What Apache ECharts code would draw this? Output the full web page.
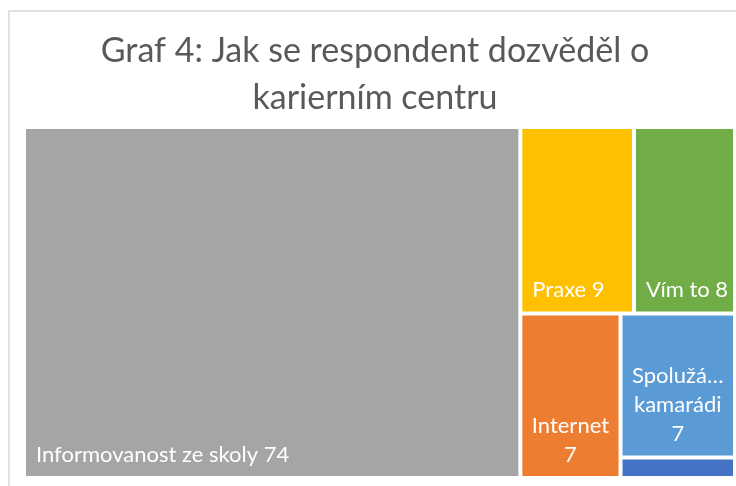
<!DOCTYPE html>
<html>
<head>
<meta charset="utf-8">
<script src="https://cdn.jsdelivr.net/npm/echarts@6/dist/echarts.min.js"></script>
<style>
	html, body {margin: 0; padding: 0; background: #fff;}
	#chart {width: 736px; height: 486px;}
</style>
</head>
<body>
<div id="chart"></div>
<script>
const names = [
	'Informovanost ze skoly',
	'Praxe',
	'Vím to',
	'Internet',
	'Spolužáci, kamarádi',
	'Jiné',
];
const values = [74, 9, 8, 7, 7, 1];
// label text as it is shown in the tiles (narrow tiles wrap)
const labels = [
	'Informovanost ze skoly 74',
	'Praxe 9',
	'Vím to 8',
	'Internet\n7',
	'Spolužá…\nkamarádi\n7',
	'',
];
const colors = ['#a5a5a5', '#ffc000', '#70ad47', '#ed7d31', '#5b9bd5', '#4472c4'];

const font = 'Lato';

const data = names.map(function (name, i) {
	const wrapped = labels[i].indexOf('\n') > -1;
	return {
		name: name,
		value: values[i],
		itemStyle: {color: colors[i]},
		label: {
			show: labels[i] !== '',
			position: wrapped ? 'insideBottom' : 'insideBottomLeft',
			align: wrapped ? 'center' : 'left',
			formatter: function () {
				return labels[i];
			},
		},
	};
});

const myChart = echarts.init(document.getElementById('chart'));
myChart.setOption({
	animation: false,
	graphic: [
		{
			type: 'rect',
			shape: {x: 9, y: 11, width: 800, height: 600},
			style: {fill: 'none', stroke: '#e2e2e2', lineWidth: 2},
			silent: true,
		},
	],
	title: {
		text: 'Graf 4: Jak se respondent dozvěděl o\nkarierním centru',
		left: 370,
		top: 23,
		textAlign: 'center',
		textStyle: {
			fontFamily: font,
			fontSize: 34,
			fontWeight: 'normal',
			lineHeight: 47,
			color: '#595959',
		},
	},
	series: [
		{
			type: 'treemap',
			left: 26,
			top: 129,
			right: 3,
			bottom: 10,
			roam: false,
			nodeClick: false,
			breadcrumb: {show: false},
			sort: false,
			squareRatio: 1,
			itemStyle: {borderWidth: 0, gapWidth: 0},
			levels: [
				{itemStyle: {borderWidth: 0, gapWidth: 4}},
			],
			label: {
				color: '#fff',
				fontFamily: font,
				fontSize: 22,
				lineHeight: 29,
				distance: 5,
				offset: [0, 3],
			},
			upperLabel: {show: false},
			data: data,
		},
	],
});
</script>
</body>
</html>
